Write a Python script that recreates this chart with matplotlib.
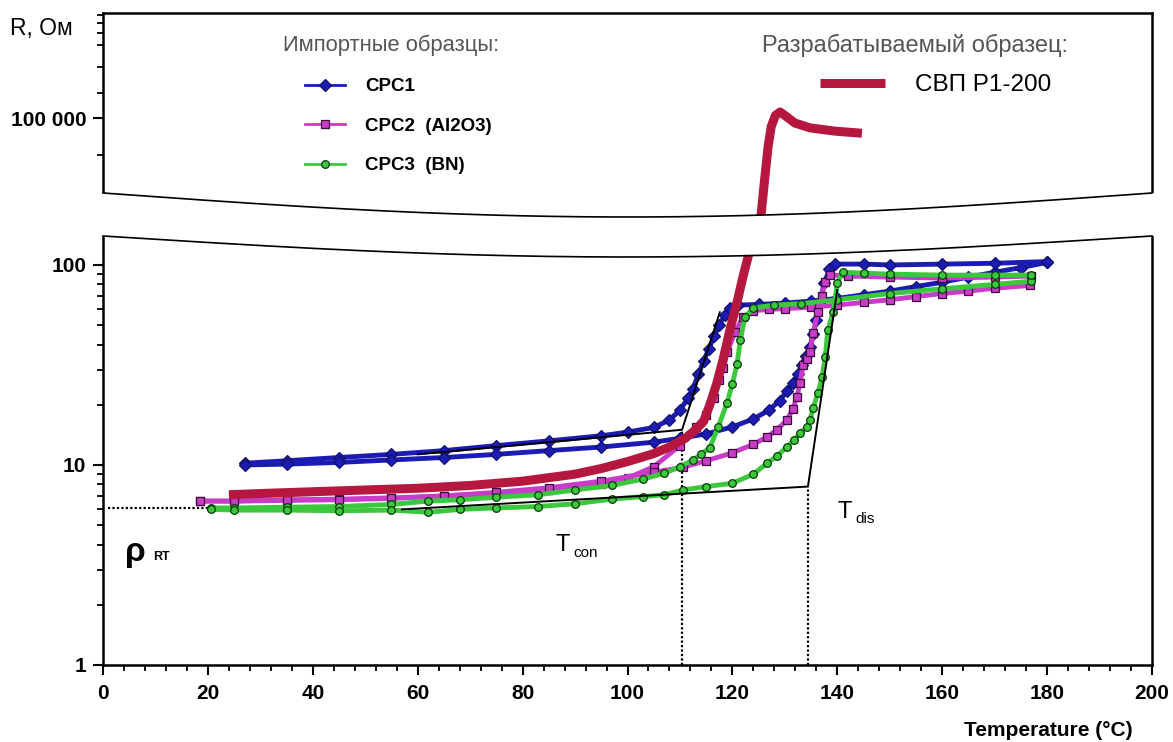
import numpy as np
import matplotlib
matplotlib.use('Agg')
import matplotlib.pyplot as plt
from matplotlib.lines import Line2D
from matplotlib.patches import Polygon
from matplotlib.ticker import FixedLocator, MultipleLocator, NullFormatter

plt.rcParams['font.family'] = ['Liberation Sans', 'DejaVu Sans']

# --- data (temperature in C, resistance in Ohm) ---
# CPC1, run with transition near T_con
cpc1_a_t = [27, 35, 45, 55, 65, 75, 85, 95, 100, 105, 108, 110, 111.5, 112.5,
            113.5, 114.5, 115.5, 116.5, 117.5, 118.5, 119.5, 121, 125, 130,
            135, 140, 145, 150, 155, 160, 165, 170, 175, 180]
cpc1_a_r = [10.2, 10.5, 10.9, 11.3, 11.8, 12.5, 13.2, 14.0, 14.6, 15.4, 16.8,
            18.8, 21.5, 24.0, 28.5, 33.0, 38.0, 44.0, 50.0, 56.0, 61.0, 63.0,
            63.5, 64.5, 66.0, 68.0, 71.0, 74.0, 78.0, 82.0, 87.0, 92.0, 97.0,
            103.0]
# CPC1, run with transition near T_dis
cpc1_b_t = [27, 35, 45, 55, 65, 75, 85, 95, 105, 110, 115, 120, 124, 127, 129,
            130.5, 131.5, 132.5, 133.3, 134, 134.8, 135.4, 136, 136.7, 137.5,
            138.5, 139.5, 145, 150, 160, 170, 180]
cpc1_b_r = [10.0, 10.1, 10.3, 10.6, 10.9, 11.3, 11.8, 12.3, 13.0, 13.6, 14.3,
            15.5, 17.0, 18.8, 21.0, 23.5, 25.7, 28.5, 31.5, 35.0, 39.0, 45.0,
            53.0, 65.0, 81.0, 95.0, 101, 101, 100, 101, 102, 104]

# CPC2 (Al2O3)
cpc2_a_t = [18.5, 25, 35, 45, 55, 65, 75, 85, 95, 100, 105, 110, 113, 115,
            116.5, 117.5, 118.3, 119, 120.5, 122, 124, 127, 130, 135, 140, 145,
            150, 155, 160, 165, 170, 176.7]
cpc2_a_r = [6.6, 6.6, 6.7, 6.75, 6.85, 7.0, 7.2, 7.5, 8.0, 8.6, 9.8, 12.5, 15.5,
            17.8, 21.6, 26.6, 30.5, 36.6, 46, 55, 59, 60, 60.5, 61.5, 63, 65,
            67, 69.5, 72, 74, 76.5, 79]
cpc2_b_t = [18.5, 25, 35, 45, 55, 65, 75, 85, 95, 105, 110.6, 115, 120, 124,
            126.6, 128.5, 130.4, 131.5, 132.3, 132.9, 133.5, 134.2, 134.8,
            135.4, 136.3, 137, 137.7, 138.6, 142, 150, 160, 170, 177]
cpc2_b_r = [6.6, 6.6, 6.65, 6.7, 6.8, 7.0, 7.3, 7.7, 8.3, 9.2, 9.75, 10.5, 11.5,
            12.7, 13.8, 15.0, 16.8, 19.0, 21.9, 25.7, 31.6, 34.0, 36.6, 45.7,
            58, 70, 82, 89, 88, 87, 86, 87, 88]

# CPC3 (BN)
cpc3_a_t = [20.5, 25, 35, 45, 55, 62, 68, 75, 83, 90, 97, 103, 107, 110, 112.5,
            114, 115.7, 117.3, 119, 120, 120.9, 121.5, 122.4, 124, 128, 133,
            140, 150, 160, 170, 177]
cpc3_a_r = [6.1, 6.1, 6.15, 6.2, 6.35, 6.6, 6.7, 6.9, 7.1, 7.5, 7.9, 8.5, 9.1,
            9.8, 10.6, 11.3, 12.2, 15.5, 20.5, 25.5, 32, 42, 55, 61, 63, 64, 67,
            72, 76, 80, 83]
cpc3_b_t = [20.5, 25, 35, 45, 55, 62, 68, 75, 83, 90, 97, 103, 107, 110.6, 115,
            120, 124, 126.6, 128.5, 130.4, 131.8, 132.9, 134.2, 134.8, 135.4,
            136.3, 137.1, 137.7, 138.2, 139.2, 140, 141, 145, 150, 160, 170, 177]
cpc3_b_r = [6.0, 5.95, 5.95, 5.9, 5.95, 5.8, 6.0, 6.1, 6.2, 6.4, 6.75, 6.95,
            7.1, 7.5, 7.8, 8.1, 9.0, 10.2, 11.1, 12.3, 13.3, 14.4, 15.5, 16.8,
            19.2, 22.9, 27.5, 34.7, 47.3, 58, 81, 92, 91, 90, 89, 89, 89]

# SVP R1-200
svp_t = [24, 30, 40, 50, 60, 70, 80, 90, 95, 100, 105, 108, 111, 113, 114.5,
         115.7, 117, 118.2, 119.5, 121, 122, 123, 125.5, 126.2, 126.8, 127.4,
         128.2, 129.1, 130.4, 131.9, 134.8, 139.6, 144.7]
svp_r = [7.1, 7.2, 7.35, 7.5, 7.65, 7.9, 8.3, 9.0, 9.6, 10.4, 11.4, 12.3, 13.6,
         15, 16.5, 20, 25.5, 33.5, 47, 67, 87, 110, 1.66e4, 3.3e4, 5.8e4, 8.5e4,
         1.05e5, 1.12e5, 1.02e5, 9.1e4, 8.3e4, 7.8e4, 7.5e4]

# tangent construction lines and marker levels
t_con, r_con = 110.4, 15.0
t_dis, r_dis = 134.4, 7.8
r_rt = 6.1
tan_con_t = [60, t_con, 117.6]
tan_con_r = [11.3, r_con, 58]
tan_dis_t = [57, t_dis, 140.0]
tan_dis_r = [6.0, r_dis, 75]

W, H = 1173, 742
BLUE = '#1c1cb4'
MAGENTA = '#c83cc8'
GREEN = '#3cc83c'
RED = '#b5173f'


def fx(x):
    return x / W


def fy(y):
    return 1 - y / H


fig = plt.figure(figsize=(W / 100, H / 100), dpi=100)
ax = fig.add_axes([fx(103), fy(665), (1152 - 103) / W, (665 - 236) / H])
axt = fig.add_axes([fx(103), fy(217), (1152 - 103) / W, (217 - 13) / H])

series = [
    (cpc1_a_t, cpc1_a_r, BLUE, 'D', '#10106a', 6, 'CPC1'),
    (cpc1_b_t, cpc1_b_r, BLUE, 'D', '#10106a', 6, None),
    (cpc2_a_t, cpc2_a_r, MAGENTA, 's', '#3a0a3a', 5.5, 'CPC2  (Al2O3)'),
    (cpc2_b_t, cpc2_b_r, MAGENTA, 's', '#3a0a3a', 5.5, None),
    (cpc3_a_t, cpc3_a_r, GREEN, 'o', '#0a3a0a', 5.5, 'CPC3  (BN)'),
    (cpc3_b_t, cpc3_b_r, GREEN, 'o', '#0a3a0a', 5.5, None),
]
handles = []
for t, r, c, m, ec, ms, lab in series:
    ax.plot(t, r, color=c, lw=3.5, zorder=3, solid_capstyle='round')
    ax.plot(t, r, color=c, ls='none', marker=m, ms=ms, mfc=c,
            mec=ec, mew=0.9, zorder=3)
    if lab:
        handles.append(Line2D([], [], color=c, lw=2, marker=m, ms=ms, mfc=c,
                              mec=ec, mew=0.9))

for a in (ax, axt):
    red, = a.plot(svp_t, svp_r, color=RED, lw=6.5, solid_capstyle='butt',
                  zorder=5)

# construction lines
ax.plot(tan_con_t, tan_con_r, color='black', lw=1.4, zorder=4)
ax.plot(tan_dis_t, tan_dis_r, color='black', lw=1.4, zorder=4)
ax.plot([1, 20], [r_rt, r_rt], color='black', lw=1.6, ls=(0, (1, 1)), zorder=2)
ax.plot([t_con, t_con], [1, r_con], color='black', lw=1.6, ls=(0, (1, 1)), zorder=2)
ax.plot([t_dis, t_dis], [1, r_dis], color='black', lw=1.6, ls=(0, (1, 1)), zorder=2)

# annotations
ax.text(4.2, 3.67, 'ρ', fontsize=24, fontweight='bold', ha='left', va='center')
ax.text(9.5, 3.45, 'RT', fontsize=9, fontweight='bold', ha='left', va='center')
ax.text(86.2, 4.0, 'T', fontsize=17, ha='left', va='center')
ax.text(89.6, 3.65, 'con', fontsize=11, ha='left', va='center')
ax.text(140.1, 5.85, 'T', fontsize=17, ha='left', va='center')
ax.text(143.5, 5.4, 'dis', fontsize=11, ha='left', va='center')

# lower axis
ax.set_yscale('log')
ax.set_xlim(0, 200)
ax.set_ylim(1, 139.6)
ax.spines['top'].set_visible(False)
ax.set_xticks(range(0, 201, 20), [str(v) for v in range(0, 201, 20)],
              fontweight='bold', fontsize=15)
ax.xaxis.set_minor_locator(MultipleLocator(4))
ax.set_yticks([1, 10, 100], ['1', '10', '100'], fontweight='bold', fontsize=15)
ax.yaxis.set_minor_formatter(NullFormatter())
ax.tick_params(which='major', direction='out', length=7, width=1.5, pad=5)
ax.tick_params(axis='x', which='major', pad=7)
ax.tick_params(which='minor', direction='out', length=4.5, width=1.3)

# upper axis
axt.set_yscale('log')
axt.set_xlim(0, 200)
axt.set_ylim(1.543e4, 7.26e5)
axt.spines['bottom'].set_visible(False)
axt.set_xticks([])
axt.xaxis.set_minor_locator(FixedLocator([]))
axt.set_yticks([1e5], ['100 000'], fontweight='bold', fontsize=15)
axt.yaxis.set_minor_locator(FixedLocator([5e4, 1.6e5, 2.6e5, 4e5, 5e5, 6e5, 7e5]))
axt.yaxis.set_minor_formatter(NullFormatter())
axt.tick_params(which='major', direction='out', length=7, width=1.5, pad=5)
axt.tick_params(which='minor', direction='out', length=4.5, width=1.3)

for a in (ax, axt):
    for s in a.spines.values():
        s.set_linewidth(1.8)
    a.patch.set_alpha(0)

# axis break: white band between two curved edges
xs = np.linspace(103, 1152, 200)
bump = np.sin(np.pi * (xs - 103) / 1049)
y_up = 193 + 24 * bump
y_lo = 236 + 21 * bump
poly = np.vstack([np.column_stack([np.r_[98, xs, 1157], np.r_[193, y_up, 193]]),
                  np.column_stack([np.r_[1157, xs[::-1], 98], np.r_[236, y_lo[::-1], 236]])])
fig.add_artist(Polygon(np.column_stack([fx(poly[:, 0]), fy(poly[:, 1])]),
                       closed=True, facecolor='white', edgecolor='none',
                       transform=fig.transFigure, zorder=10))
fig.add_artist(Line2D(fx(xs), fy(y_up), color='black', lw=1.2,
                      transform=fig.transFigure, zorder=11))
fig.add_artist(Line2D(fx(xs), fy(y_lo), color='black', lw=1.2,
                      transform=fig.transFigure, zorder=11))

# legends
fig.text(fx(283), fy(45), 'Импортные образцы:', fontsize=15.8, color='#555555',
         ha='left', va='center')
fig.text(fx(762), fy(45), 'Разрабатываемый образец:', fontsize=17,
         color='#555555', ha='left', va='center')
fs1 = 13.5 * 100 / 72
leg1 = fig.legend(handles=handles, labels=['CPC1', 'CPC2  (Al2O3)', 'CPC3  (BN)'],
                  loc='upper left',
                  bbox_to_anchor=(fx(305), fy(78)), bbox_transform=fig.transFigure,
                  frameon=False, borderpad=0, borderaxespad=0, numpoints=1,
                  handlelength=40 / fs1, handletextpad=20 / fs1, labelspacing=1.2,
                  prop={'weight': 'bold', 'size': 13.5})
fs2 = 17.5 * 100 / 72
leg2 = fig.legend(handles=[red], labels=['СВП Р1-200'], loc='upper left',
                  bbox_to_anchor=(fx(820), fy(74)), bbox_transform=fig.transFigure,
                  frameon=False, borderpad=0, borderaxespad=0,
                  handlelength=65 / fs2, handletextpad=30 / fs2,
                  prop={'size': 17.5})

fig.text(fx(10), fy(29), 'R, Ом', fontsize=16.5, ha='left', va='center')
fig.text(fx(1133), fy(731), 'Temperature (°C)', fontsize=15, fontweight='bold',
         ha='right', va='center')

fig.savefig('out.png', dpi=100, facecolor='white')
